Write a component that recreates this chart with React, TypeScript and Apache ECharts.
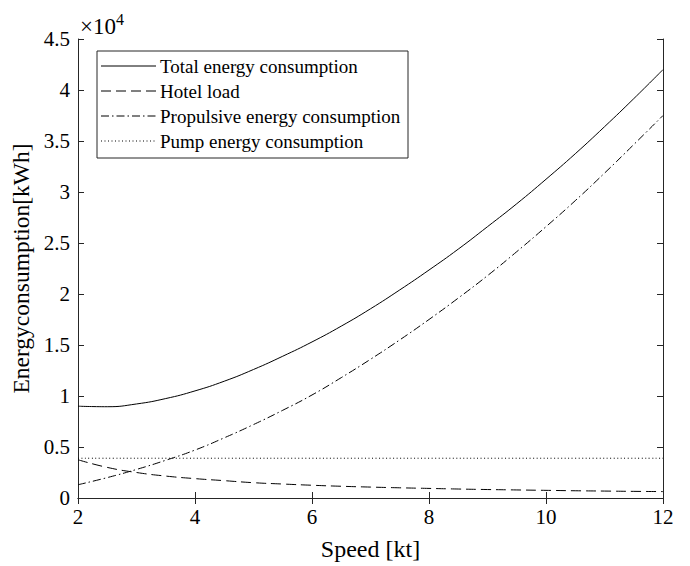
import React, { useEffect, useRef } from "react";
import * as echarts from "echarts";

const speeds = [2, 2.5, 3, 3.5, 4, 4.5, 5, 5.5, 6, 6.5, 7, 7.5, 8, 8.5, 9, 9.5, 10, 10.5, 11, 11.5, 12];
// kWh
const totalEnergy = [9000, 8950, 9220, 9750, 10500, 11450, 12600, 13900, 15300, 16850, 18550, 20400, 22350, 24400, 26600, 28850, 31250, 33750, 36400, 39150, 42000];
const hotelLoad = [3750, 3000, 2500, 2150, 1900, 1700, 1500, 1370, 1250, 1150, 1070, 1000, 940, 880, 830, 790, 750, 710, 680, 650, 630];
const propulsiveEnergy = [1300, 2000, 2800, 3700, 4700, 5900, 7200, 8600, 10100, 11800, 13600, 15500, 17500, 19600, 21800, 24150, 26600, 29150, 31850, 34650, 37500];
const pumpSpeeds = [2, 12];
const pumpEnergy = [3900, 3900];

const legendNames = [
  "Total energy consumption",
  "Hotel load",
  "Propulsive energy consumption",
  "Pump energy consumption",
];
const yTickValues = [0, 5000, 10000, 15000, 20000, 25000, 30000, 35000, 40000, 45000];

const FONT = "Liberation Serif";
const DASHED = [10, 5];
const DASHDOT = [8, 3, 1.5, 3];
const DOTTED = [1, 2.5];

export default function App() {
  const ref = useRef<HTMLDivElement>(null);
  useEffect(() => {
    if (!ref.current) return;
    const chart = echarts.init(ref.current, undefined, { renderer: "svg" });
    const pairs = (xs: number[], ys: number[]) => xs.map((x, i) => [x, ys[i]]);
    const axisLine = { show: true, lineStyle: { color: "#262626", width: 1 } };
    const tick = { show: true, inside: true, length: 6, lineStyle: { color: "#262626" } };
    const styles = [[], DASHED, DASHDOT, DOTTED];
    const legendGraphic: any[] = [
      {
        type: "rect",
        shape: { x: 97, y: 51, width: 311, height: 107 },
        style: { fill: "#fff", stroke: "#262626", lineWidth: 1 },
        z: 100,
      },
    ];
    legendNames.forEach((n, i) => {
      const y = 66 + i * 25;
      legendGraphic.push({
        type: "line",
        shape: { x1: 101, y1: y, x2: 156, y2: y },
        style: { stroke: "#000", lineWidth: 1, lineDash: styles[i].length ? styles[i] : null },
        z: 101,
      });
      legendGraphic.push({
        type: "text",
        x: 160,
        y: y,
        style: { text: n, fontSize: 19, fontFamily: FONT, fill: "#000", verticalAlign: "middle" },
        z: 101,
      });
    });
    const line = (name: string, xs: number[], ys: number[], type: any) => ({
      name,
      type: "line",
      data: pairs(xs, ys),
      smooth: 0.5,
      showSymbol: false,
      lineStyle: { color: "#000", width: 1, type },
    });
    chart.setOption({
      animation: false,
      grid: { left: 78, right: 27, top: 39, bottom: 67, containLabel: false },
      xAxis: [
        {
          type: "value",
          min: 2,
          max: 12,
          interval: 2,
          name: "Speed [kt]",
          nameLocation: "middle",
          nameGap: 39,
          nameTextStyle: { fontSize: 24, color: "#000", fontFamily: FONT },
          axisLine,
          axisTick: tick,
          axisLabel: { fontSize: 21, color: "#000", margin: 8, fontFamily: FONT },
          splitLine: { show: false },
        },
        {
          type: "value",
          position: "top",
          min: 2,
          max: 12,
          interval: 2,
          axisLine,
          axisTick: tick,
          axisLabel: { show: false },
          splitLine: { show: false },
        },
      ],
      yAxis: [
        {
          type: "value",
          min: 0,
          max: 45000,
          interval: 5000,
          name: "Energyconsumption[kWh]",
          nameLocation: "middle",
          nameGap: 38,
          nameTextStyle: { fontSize: 23.5, color: "#000", fontFamily: FONT },
          axisLine,
          axisTick: tick,
          axisLabel: {
            fontSize: 21,
            color: "#000",
            margin: 8,
            fontFamily: FONT,
            formatter: (v: number) => (yTickValues.includes(v) ? String(v / 10000) : ""),
          },
          splitLine: { show: false },
        },
        {
          type: "value",
          position: "right",
          min: 0,
          max: 45000,
          interval: 5000,
          axisLine,
          axisTick: tick,
          axisLabel: { show: false },
          splitLine: { show: false },
        },
      ],
      series: [
        line(legendNames[0], speeds, totalEnergy, "solid"),
        line(legendNames[1], speeds, hotelLoad, DASHED),
        line(legendNames[2], speeds, propulsiveEnergy, DASHDOT),
        line(legendNames[3], pumpSpeeds, pumpEnergy, DOTTED),
      ],
      graphic: [
        {
          type: "text",
          x: 80,
          y: 38,
          style: { text: "×10", fontSize: 23, fontFamily: FONT, fill: "#000", verticalAlign: "bottom" },
        },
        {
          type: "text",
          x: 116,
          y: 27,
          style: { text: "4", fontSize: 16, fontFamily: FONT, fill: "#000", verticalAlign: "bottom" },
        },
        ...legendGraphic,
      ],
    });
    return () => chart.dispose();
  }, []);
  return <div ref={ref} style={{ position: "fixed", left: 0, top: 0, width: 690, height: 566, background: "#fff" }} />;
}
